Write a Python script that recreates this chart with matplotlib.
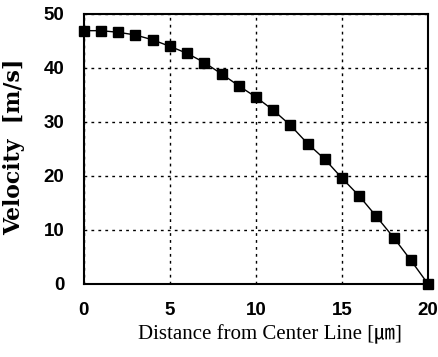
import matplotlib
matplotlib.use("Agg")
import matplotlib.pyplot as plt

distance = [0, 1, 2, 3, 4, 5, 6, 7, 8, 9, 10, 11, 12, 13, 14, 15, 16, 17, 18, 19, 20]
velocity = [46.9, 46.9, 46.6, 46.1, 45.2, 44.0, 42.7, 41.0, 38.9, 36.7, 34.6,
            32.2, 29.4, 26.0, 23.1, 19.6, 16.3, 12.5, 8.6, 4.4, 0.0]
xticks = [0, 5, 10, 15, 20]
yticks = [0, 10, 20, 30, 40, 50]

fig = plt.figure(figsize=(4.39, 3.57), dpi=100)
ax = fig.add_axes([0.191, 0.2045, 0.784, 0.7565])
ax.plot(distance, velocity, color='black', linewidth=1.0, marker='s',
        markersize=7.5, markerfacecolor='black', markeredgecolor='black', clip_on=False, zorder=3)
ax.set_xlim(0, 20)
ax.set_ylim(0, 50)
ax.set_xticks(xticks)
ax.set_yticks(yticks)
ax.grid(True, color='black', linestyle=(0, (2, 3)), linewidth=1.0)
for s in ax.spines.values():
    s.set_linewidth(1.5)
    s.set_color('black')
ax.tick_params(axis='x', length=0, pad=13)
ax.tick_params(axis='y', length=0, pad=14)
for lab in ax.get_xticklabels() + ax.get_yticklabels():
    lab.set_fontfamily('Liberation Sans')
    lab.set_fontweight('bold')
    lab.set_fontsize(13.5)
ax.set_xlabel('Distance from Center Line [㎛]', family=['Liberation Serif', 'Noto Sans CJK JP'],
              fontsize=15)
ax.xaxis.set_label_coords(0.54, -0.15)
ax.set_ylabel('Velocity  [m/s]', family=['DejaVu Serif'],
              fontsize=15.8, fontweight='bold')
ax.yaxis.set_label_coords(-0.17, 0.507)
fig.savefig('out.png', dpi=100)
